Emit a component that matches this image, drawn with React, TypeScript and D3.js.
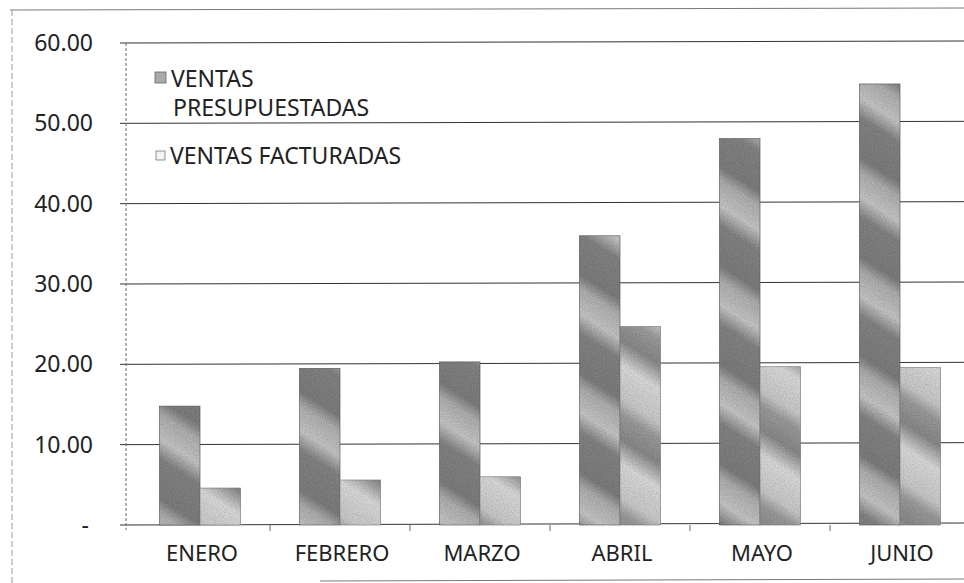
import React from "react";
import * as d3 from "d3";

const months = ["ENERO", "FEBRERO", "MARZO", "ABRIL", "MAYO", "JUNIO"];
const presupuestadas = [14.8, 19.5, 20.3, 36.0, 48.1, 54.9];
const facturadas = [4.6, 5.6, 6.0, 24.7, 19.7, 19.6];
const yTicks = [0, 10, 20, 30, 40, 50, 60];
const seriesNames = ["VENTAS PRESUPUESTADAS", "VENTAS FACTURADAS"];

const W = 964;
const H = 583;
const margin = { top: 43, bottom: 58, left: 126 };

const fmt = (v: number) => (v === 0 ? "-" : d3.format(".2f")(v));

const App = () => {
  const x = d3
    .scaleBand()
    .domain(months)
    .range([margin.left + 4, margin.left + 844])
    .paddingInner(0.42)
    .paddingOuter(0.21);
  const y = d3
    .scaleLinear()
    .domain([0, 60])
    .range([H - margin.bottom, margin.top]);
  const bw = x.bandwidth() / 2;
  const font = "'Noto Sans', 'Open Sans', sans-serif";

  return (
    <svg
      width={W}
      height={H}
      style={{ position: "absolute", left: 0, top: 0, background: "#fff" }}
    >
      <defs>
        <linearGradient
          id="gPres"
          gradientUnits="userSpaceOnUse"
          x1="0"
          y1="0"
          x2="45"
          y2="-70"
          spreadMethod="repeat"
        >
          <stop offset="0" stopColor="#858585" />
          <stop offset="0.4" stopColor="#8c8c8c" />
          <stop offset="0.6" stopColor="#d2d2d2" />
          <stop offset="0.85" stopColor="#bababa" />
          <stop offset="1" stopColor="#858585" />
        </linearGradient>
        <linearGradient
          id="gFact"
          gradientUnits="userSpaceOnUse"
          x1="0"
          y1="0"
          x2="45"
          y2="-70"
          spreadMethod="repeat"
        >
          <stop offset="0" stopColor="#d6d6d6" />
          <stop offset="0.35" stopColor="#e8e8e8" />
          <stop offset="0.6" stopColor="#929292" />
          <stop offset="0.85" stopColor="#a6a6a6" />
          <stop offset="1" stopColor="#d6d6d6" />
        </linearGradient>
        <filter id="grain">
          <feTurbulence type="fractalNoise" baseFrequency="0.9" numOctaves="2" result="n" />
          <feColorMatrix
            in="n"
            type="matrix"
            values="0 0 0 0 0  0 0 0 0 0  0 0 0 0 0  0 0 0 0.45 0"
            result="dots"
          />
          <feComposite in="dots" in2="SourceGraphic" operator="in" result="d2" />
          <feMerge>
            <feMergeNode in="SourceGraphic" />
            <feMergeNode in="d2" />
          </feMerge>
        </filter>
      </defs>

      {/* outer frame */}
      <line x1={10} x2={W} y1={10} y2={8} stroke="#777" strokeWidth={1} />
      <line x1={12} x2={12} y1={10} y2={H} stroke="#999" strokeWidth={1} strokeDasharray="6 3" />
      <line x1={320} x2={W} y1={581} y2={579} stroke="#777" strokeWidth={1} />

      {/* grid lines */}
      {yTicks.map((t) => (
        <line
          key={t}
          x1={margin.left - 6}
          x2={W}
          y1={y(t)}
          y2={y(t) - 2}
          stroke="#333"
          strokeWidth={1}
        />
      ))}
      <line
        x1={margin.left}
        x2={margin.left}
        y1={margin.top}
        y2={y(0) + 5}
        stroke="#666"
        strokeWidth={1}
        strokeDasharray="3 2"
      />
      {months.map((m, i) =>
        i === 0 ? null : (
          <line
            key={m}
            x1={x(m)! - (x.step() - x.bandwidth()) / 2}
            x2={x(m)! - (x.step() - x.bandwidth()) / 2}
            y1={y(0)}
            y2={y(0) + 6}
            stroke="#666"
          />
        )
      )}

      {/* y tick labels */}
      {yTicks.map((t) => (
        <text
          key={t}
          x={t === 0 ? 89 : 93}
          y={y(t)}
          dy="0.35em"
          textAnchor="end"
          fontFamily={font}
          fontSize={23}
          fill="#222"
        >
          {fmt(t)}
        </text>
      ))}

      {/* bars */}
      <g filter="url(#grain)">
        {months.map((m, i) => (
          <g key={m}>
            <rect
              x={x(m)!}
              y={y(presupuestadas[i])}
              width={bw}
              height={y(0) - y(presupuestadas[i])}
              fill="url(#gPres)"
              stroke="#666"
              strokeWidth={0.6}
            />
            <rect
              x={x(m)! + bw}
              y={y(facturadas[i])}
              width={bw}
              height={y(0) - y(facturadas[i])}
              fill="url(#gFact)"
              stroke="#888"
              strokeWidth={0.6}
            />
          </g>
        ))}
      </g>

      {/* category labels */}
      {months.map((m) => (
        <text
          key={m}
          x={x(m)! + x.bandwidth() / 2 + 2}
          y={561}
          textAnchor="middle"
          fontFamily={font}
          fontSize={22}
          fill="#222"
        >
          {m}
        </text>
      ))}

      {/* legend */}
      <rect x={155} y={72} width={11} height={11} fill="#aaa" stroke="#666" strokeWidth={0.8} />
      <text x={171} y={87} fontFamily={font} fontSize={23} fill="#222">
        VENTAS
      </text>
      <text x={173} y={116} fontFamily={font} fontSize={23} fill="#222">
        PRESUPUESTADAS
      </text>
      <rect x={156} y={151} width={9} height={9} fill="#f4f4f4" stroke="#777" strokeWidth={0.8} />
      <text x={170} y={164} fontFamily={font} fontSize={23} fill="#222">
        {seriesNames[1]}
      </text>
    </svg>
  );
};

export default App;
